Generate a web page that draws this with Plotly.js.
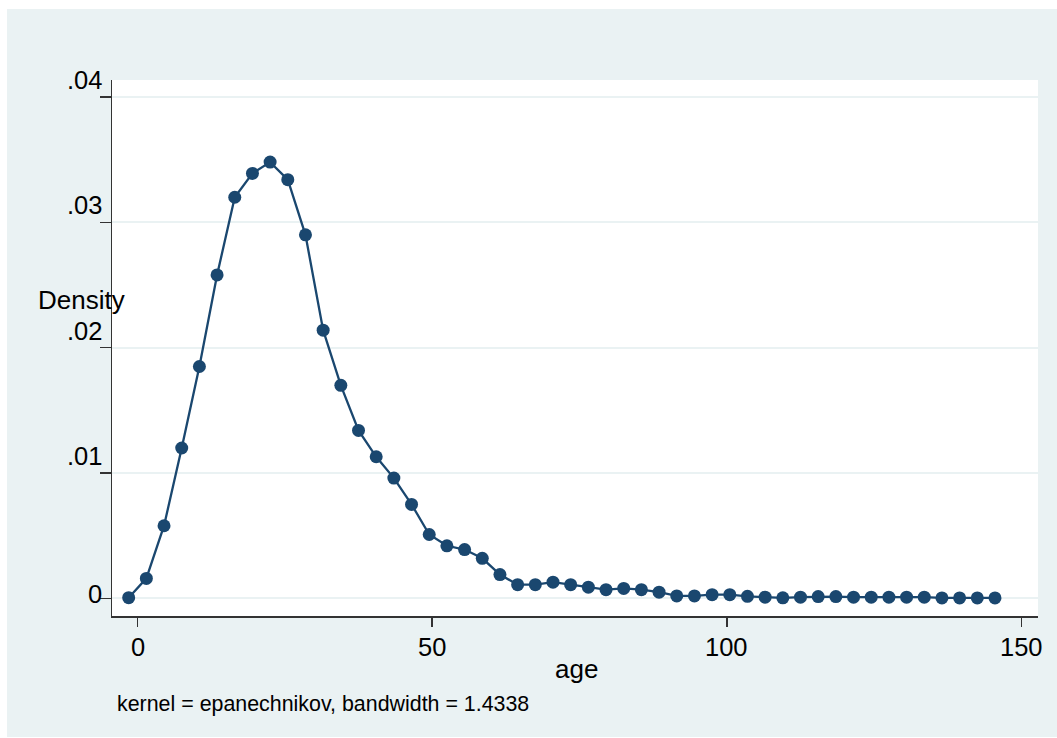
<!DOCTYPE html>
<html>
<head>
<meta charset="utf-8">
<script src="https://cdn.plot.ly/plotly-3.0.1.min.js"></script>
<style>
  html, body { margin: 0; padding: 0; background: #ffffff; width: 1057px; height: 738px; overflow: hidden; }
  #chart { position: absolute; left: 7px; top: 9px; width: 1050px; height: 728px; }
</style>
</head>
<body>
<div id="chart"></div>
<script>
// Evaluation grid (age) and kernel density estimates
const ageGrid = [-1.5, 1.5, 4.5, 7.5, 10.5, 13.5, 16.5, 19.5, 22.5, 25.5,
                 28.5, 31.5, 34.5, 37.5, 40.5, 43.5, 46.5, 49.5, 52.5, 55.5,
                 58.5, 61.5, 64.5, 67.5, 70.5, 73.5, 76.5, 79.5, 82.5, 85.5,
                 88.5, 91.5, 94.5, 97.5, 100.5, 103.5, 106.5, 109.5, 112.5, 115.5,
                 118.5, 121.5, 124.5, 127.5, 130.5, 133.5, 136.5, 139.5, 142.5, 145.5];
const density = [0.00006, 0.0016, 0.0058, 0.0120, 0.0185, 0.0258, 0.0320, 0.0339, 0.0348, 0.0334,
                 0.0290, 0.0214, 0.0170, 0.0134, 0.0113, 0.0096, 0.0075, 0.0051, 0.0042, 0.0039,
                 0.0032, 0.0019, 0.0011, 0.0011, 0.0013, 0.0011, 0.0009, 0.0007, 0.0008, 0.0007,
                 0.0005, 0.0002, 0.0002, 0.0003, 0.0003, 0.00017, 0.0001, 0.00005, 0.0001, 0.00015,
                 0.00015, 0.0001, 0.0001, 0.0001, 0.0001, 0.0001, 0.00004, 0.00004, 0.00004, 0.00004];

const xTickVals = [0, 50, 100, 150];
const xTickText = ['0', '50', '100', '150'];
const yTickVals = [0, 0.01, 0.02, 0.03, 0.04];
const yTickText = ['0', '.01', '.02', '.03', '.04'];

const xTitle = 'age';
const yTitle = 'Density';
const noteText = 'kernel = epanechnikov, bandwidth = 1.4338';

const navy = '#1a476f';
const panel = '#eaf2f3';
const FONT = '"Liberation Sans", Arial, Helvetica, sans-serif';

const trace = {
  x: ageGrid,
  y: density,
  type: 'scatter',
  mode: 'lines+markers',
  line: { color: navy, width: 2.3 },
  marker: { color: navy, size: 13 },
  hoverinfo: 'skip',
  showlegend: false
};

const annotations = [];
yTickVals.forEach((v, i) => {
  const t = yTickText[i];
  annotations.push({
    xref: 'paper', yref: 'y', x: 0, y: v,
    xanchor: 'right', yanchor: 'middle',
    xshift: -8, yshift: t.startsWith('.') ? 17 : 4,
    text: t, showarrow: false,
    font: { family: FONT, size: 25.5, color: '#000' }
  });
});
xTickVals.forEach((v, i) => {
  annotations.push({
    xref: 'x', yref: 'paper', x: v, y: 0,
    xanchor: 'center', yanchor: 'middle',
    yshift: -31, text: xTickText[i], showarrow: false,
    font: { family: FONT, size: 25.5, color: '#000' }
  });
});
annotations.push({
  xref: 'paper', yref: 'paper', x: 0, y: 0,
  xanchor: 'center', yanchor: 'middle', xshift: 464, yshift: -53,
  text: xTitle, showarrow: false,
  font: { family: FONT, size: 26, color: '#000' }
});
annotations.push({
  xref: 'paper', yref: 'paper', x: 0, y: 0.5,
  xanchor: 'center', yanchor: 'middle', xshift: -31, yshift: 48,
  text: yTitle, showarrow: false,
  font: { family: FONT, size: 26, color: '#000' }
});
annotations.push({
  xref: 'paper', yref: 'paper', x: 0, y: 0,
  xanchor: 'left', yanchor: 'middle', xshift: 3, yshift: -88,
  text: noteText, showarrow: false,
  font: { family: FONT, size: 21.4, color: '#000' }
});

const layout = {
  width: 1050,
  height: 728,
  margin: { l: 105, r: 19, t: 71, b: 121, pad: 0 },
  paper_bgcolor: panel,
  plot_bgcolor: '#ffffff',
  font: { family: FONT, size: 25, color: '#000' },
  showlegend: false,
  hovermode: false,
  xaxis: {
    range: [-4.33, 152.8],
    tickvals: xTickVals,
    showticklabels: false,
    ticks: 'outside', ticklen: 9, tickwidth: 1.5, tickcolor: '#333',
    showline: true, linecolor: '#333', linewidth: 1.5,
    showgrid: false, zeroline: false
  },
  yaxis: {
    range: [-0.0014, 0.04135],
    tickvals: yTickVals,
    showticklabels: false,
    ticks: 'outside', ticklen: 11, tickwidth: 1.5, tickcolor: '#333',
    showline: true, linecolor: '#333', linewidth: 1.5,
    showgrid: true, gridcolor: panel, gridwidth: 2,
    zeroline: false
  },
  annotations: annotations
};

Plotly.newPlot('chart', [trace], layout, { displayModeBar: false, staticPlot: true });
</script>
</body>
</html>
